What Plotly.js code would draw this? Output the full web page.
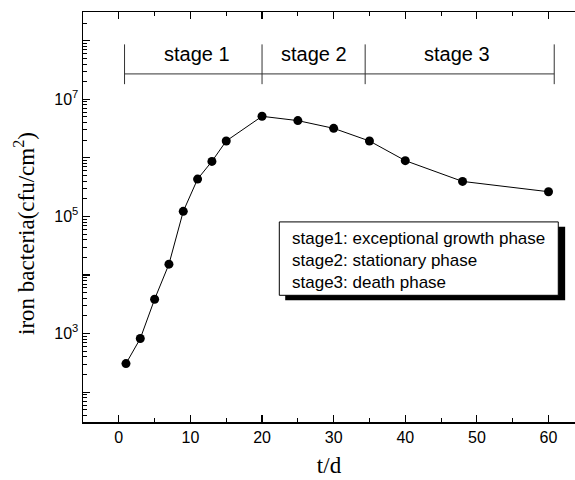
<!DOCTYPE html>
<html>
<head>
<meta charset="utf-8">
<script src="https://cdn.plot.ly/plotly-3.0.1.min.js"></script>
<style>
html, body { margin: 0; padding: 0; background: #fff; overflow: hidden; }
#chart { width: 575px; height: 480px; }
</style>
</head>
<body>
<div id="chart"></div>
<script>
// Data
var days = [1, 3, 5, 7, 9, 11, 13, 15, 20, 25, 30, 35, 40, 48, 60];
var bacteria = [307, 822, 3860, 15300, 122000, 434000, 870000, 1940000,
                5120000, 4320000, 3190000, 1940000, 896000, 396000, 264000];

// Stage bracket boundaries (t/d) and labels
var stageBounds = [0.8, 20, 34.4, 60.8];
var stageLabels = ['stage 1', 'stage 2', 'stage 3'];
var stageLabelX = [10.9, 27.2, 47.2];

// Description box lines
var noteLines = ['stage1: exceptional growth phase',
                 'stage2: stationary phase',
                 'stage3: death phase'];

// Tick labels
var xTicks = [0, 10, 20, 30, 40, 50, 60];
var yLabelVals = [1e3, 1e5, 1e7];
var yLabelText = ['10<sup>3</sup>', '10<sup>5</sup>', '10<sup>7</sup>'];
var yPlainDecades = [1e2, 1e4, 1e6, 1e8];
var decades = [1e1, 1e2, 1e3, 1e4, 1e5, 1e6, 1e7, 1e8];
var digits = [2, 3, 4, 5, 6, 7, 8, 9];

var yMinorVals = [];
decades.forEach(function (d) { digits.forEach(function (k) { yMinorVals.push(d * k); }); });

var sans = '"Liberation Sans", Arial, sans-serif';
var serif = '"Liberation Serif", "Times New Roman", serif';
var yRange = [1.49, 8.49];

var trace = {
  x: days,
  y: bacteria,
  type: 'scatter',
  mode: 'lines+markers',
  line: { color: '#000', width: 1 },
  marker: { color: '#000', size: 9 },
  showlegend: false,
  hoverinfo: 'x+y'
};
// invisible trace to activate the second y axis (unlabelled even-decade major ticks)
var helper = {
  x: [days[0]], y: [bacteria[0]], yaxis: 'y2', type: 'scatter', mode: 'markers',
  marker: { opacity: 0 }, showlegend: false, hoverinfo: 'skip'
};

// Bracket shapes
var shapes = [];
var bracketY = 0.849, tickTop = 0.921, tickBot = 0.824;
shapes.push({ type: 'line', xref: 'x', yref: 'paper',
  x0: stageBounds[0], x1: stageBounds[stageBounds.length - 1], y0: bracketY, y1: bracketY,
  line: { color: '#333', width: 1 } });
stageBounds.forEach(function (b) {
  shapes.push({ type: 'line', xref: 'x', yref: 'paper',
    x0: b, x1: b, y0: tickBot, y1: tickTop,
    line: { color: '#333', width: 1 } });
});
// Note box shadow and box
shapes.push({ type: 'rect', xref: 'paper', yref: 'paper',
  x0: 0.411, x1: 0.980, y0: 0.297, y1: 0.476,
  fillcolor: '#000', line: { width: 0 }, layer: 'above' });
shapes.push({ type: 'rect', xref: 'paper', yref: 'paper',
  x0: 0.399, x1: 0.966, y0: 0.309, y1: 0.488,
  fillcolor: '#fff', line: { color: '#000', width: 1 }, layer: 'above' });

var annotations = [];
stageLabels.forEach(function (s, i) {
  annotations.push({ text: s, xref: 'x', yref: 'paper', x: stageLabelX[i], y: 0.897,
    showarrow: false, xanchor: 'center', yanchor: 'middle',
    font: { family: sans, size: 20, color: '#000' } });
});
annotations.push({ text: noteLines.join('<br>'), xref: 'paper', yref: 'paper',
  x: 0.421, y: 0.395, xanchor: 'left', yanchor: 'middle', align: 'left',
  showarrow: false, font: { family: sans, size: 17, color: '#000' } });
// y-axis title (placed as in the reference, slightly below centre)
annotations.push({ text: 'iron bacteria(cfu/cm<sup>2</sup>)', xref: 'paper', yref: 'paper',
  x: -0.118, y: 0.461, textangle: -90, xanchor: 'center', yanchor: 'middle',
  showarrow: false, font: { family: serif, size: 23, color: '#000' } });

var layout = {
  width: 575, height: 480,
  margin: { l: 83, r: 0, t: 12, b: 58 },
  paper_bgcolor: '#fff', plot_bgcolor: '#fff',
  font: { family: sans, color: '#000', size: 16 },
  xaxis: {
    range: [-5, 63.7],
    tickmode: 'array', tickvals: xTicks,
    ticks: 'inside', ticklen: 7, tickwidth: 1.2, tickcolor: '#000',
    minor: { dtick: 5, ticks: 'inside', ticklen: 4, tickwidth: 1, tickcolor: '#000', showgrid: false },
    showgrid: false, zeroline: false,
    showline: true, linecolor: '#000', linewidth: 1.5, mirror: 'ticks',
    tickfont: { family: sans, size: 16, color: '#000' },
    title: { text: 't/d', font: { family: serif, size: 23, color: '#000' }, standoff: 12 }
  },
  yaxis: {
    type: 'log',
    range: yRange,
    tickmode: 'array', tickvals: yLabelVals, ticktext: yLabelText,
    ticks: 'inside', ticklen: 7, tickwidth: 1.2, tickcolor: '#000',
    minor: { tickmode: 'array', tickvals: yMinorVals, ticks: 'inside', ticklen: 4, tickwidth: 1, tickcolor: '#000', showgrid: false },
    showgrid: false, zeroline: false,
    showline: true, linecolor: '#000', linewidth: 1.5, mirror: false,
    tickfont: { family: sans, size: 16, color: '#000' }
  },
  yaxis2: {
    type: 'log', overlaying: 'y', side: 'left', range: yRange,
    tickmode: 'array', tickvals: yPlainDecades,
    ticks: 'inside', ticklen: 7, tickwidth: 1.2, tickcolor: '#000',
    showticklabels: false, showgrid: false, zeroline: false, showline: false
  },
  shapes: shapes,
  annotations: annotations
};

Plotly.newPlot('chart', [trace, helper], layout, { displayModeBar: false, staticPlot: true });
</script>
</body>
</html>
